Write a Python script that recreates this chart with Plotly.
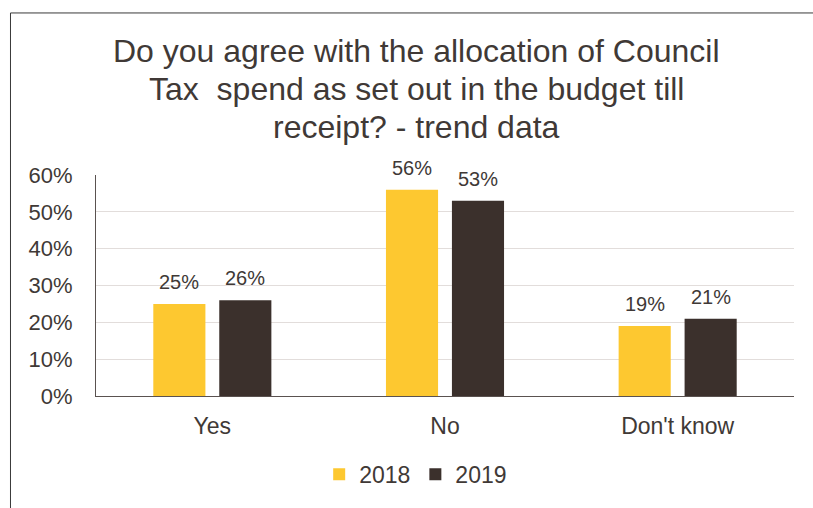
import plotly.graph_objects as go

# Survey answers and the share of respondents per year
categories = ["Yes", "No", "Don't know"]
years = ["2018", "2019"]
share_2018 = [0.25, 0.56, 0.19]
share_2019 = [0.26, 0.53, 0.21]
y_ticks = [0, 0.1, 0.2, 0.3, 0.4, 0.5, 0.6]
title_lines = [
    "Do you agree with the allocation of Council",
    "Tax  spend as set out in the budget till",
    "receipt? - trend data",
]

FONT = "Liberation Sans, Arial, sans-serif"
TEXT = "#403936"
YELLOW = "#FDC830"
DARK = "#3B302C"
BARGAP = 0.433
GROUPGAP = 0.21

fig = go.Figure()
series = [(years[0], share_2018, YELLOW), (years[1], share_2019, DARK)]
for name, vals, col in series:
    fig.add_trace(go.Bar(
        x=categories, y=vals, name=name,
        marker=dict(color=col, line=dict(width=0)),
        hoverinfo="skip",
    ))

# value labels above each bar, placed at the bar's slot within its group
slot = (1 - BARGAP) / 2
for k, (name, vals, col) in enumerate(series):
    offset = (k - 0.5) * slot
    for i, v in enumerate(vals):
        fig.add_annotation(
            x=i + offset, y=v, xref="x", yref="y",
            text=f"{round(v * 100)}%", showarrow=False,
            yanchor="bottom", yshift=9,
            font=dict(family=FONT, size=20, color=TEXT),
        )

# chart title, one annotation per line
title_y = [1.5605, 1.388, 1.215]
for line, ty in zip(title_lines, title_y):
    fig.add_annotation(
        x=0.4585, y=ty, xref="paper", yref="paper",
        text=line, showarrow=False, xanchor="center", yanchor="middle",
        font=dict(family=FONT, size=32, color=TEXT),
    )

# outer frame of the chart
fig.add_shape(
    type="rect", xref="paper", yref="paper",
    x0=-0.1225, y0=-0.6, x1=1.2, y1=1.7332,
    line=dict(color="#3a3a3a", width=1), fillcolor="rgba(0,0,0,0)", layer="above",
)

fig.update_layout(
    width=813, height=508,
    margin=dict(l=96, r=19, t=175, b=110),
    paper_bgcolor="white", plot_bgcolor="white",
    barmode="group", bargap=BARGAP, bargroupgap=GROUPGAP,
    font=dict(family=FONT, color=TEXT),
    showlegend=True,
    legend=dict(
        orientation="h", x=0.458, xanchor="center", y=-0.354, yanchor="middle",
        font=dict(family=FONT, size=23, color=TEXT),
        bgcolor="rgba(0,0,0,0)",
    ),
    xaxis=dict(
        showline=True, linecolor="#5a5250", linewidth=1,
        showgrid=False, ticks="", ticklabelstandoff=9,
        tickfont=dict(family=FONT, size=23, color=TEXT),
        fixedrange=True,
    ),
    yaxis=dict(
        range=[0, 0.6], tickvals=y_ticks, tickformat=".0%",
        showline=True, linecolor="#5a5250", linewidth=1,
        showgrid=True, gridcolor="#E2DDDB", gridwidth=1,
        zeroline=False, ticks="", ticklabelstandoff=18,
        tickfont=dict(family=FONT, size=22, color=TEXT),
        fixedrange=True,
    ),
)

fig.write_html("out.html")
